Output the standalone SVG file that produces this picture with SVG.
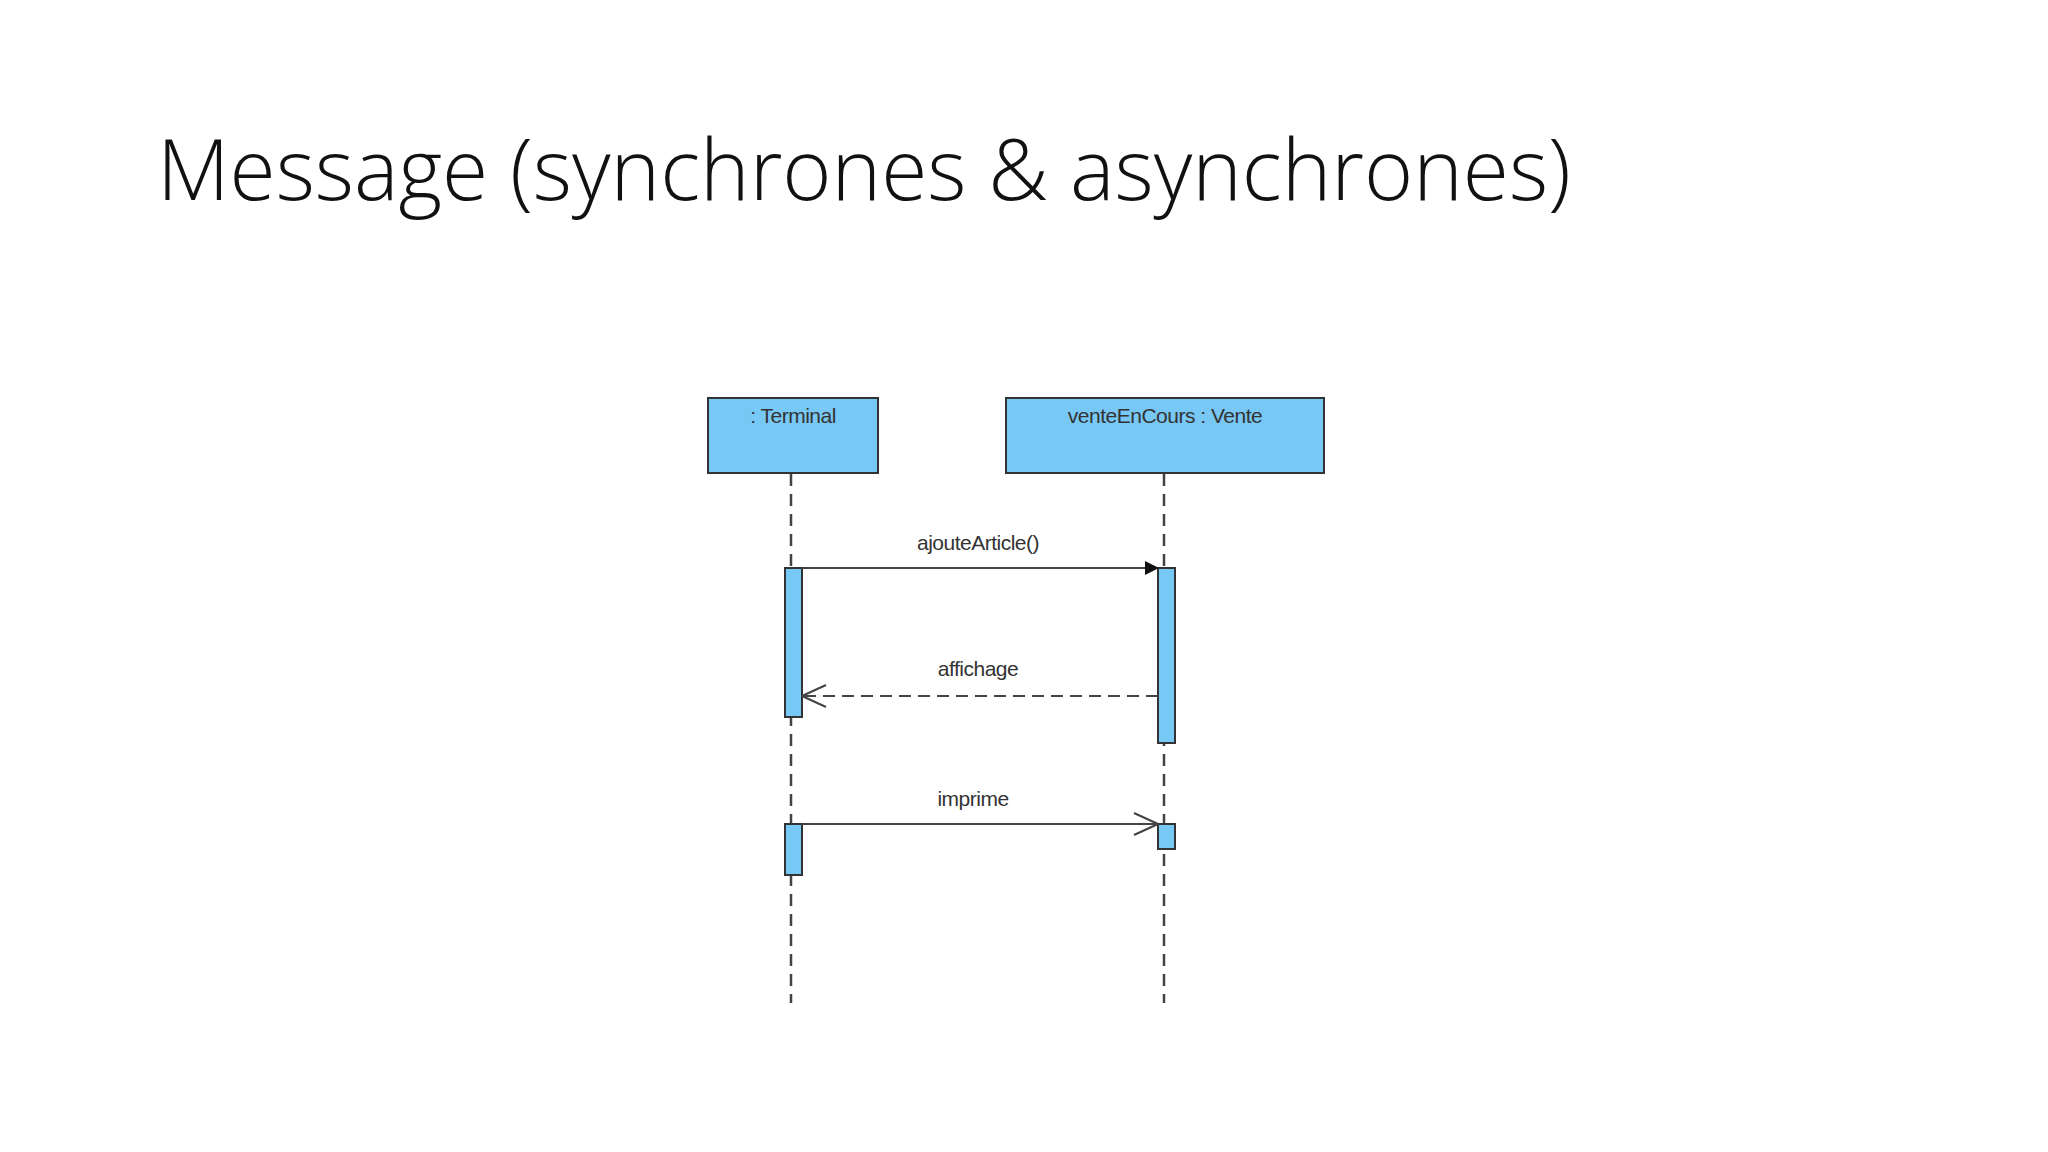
<svg xmlns="http://www.w3.org/2000/svg" width="2048" height="1152" viewBox="0 0 2048 1152">
<style>
.box{fill:#78c8f5;stroke:#333;stroke-width:2}
.act{fill:#78c8f5;stroke:#333;stroke-width:2}
.life{stroke:#444;stroke-width:2.5;stroke-dasharray:12 8;fill:none}
.msg{stroke:#444;stroke-width:2;fill:none}
.lbl{font-family:"Liberation Sans",Arial,sans-serif;font-size:21px;fill:#333;text-anchor:middle;letter-spacing:-0.5px}
</style>
<defs>
<marker id="filled" markerWidth="14" markerHeight="14" refX="13" refY="7" orient="auto" markerUnits="userSpaceOnUse" viewBox="0 0 14 14"><path d="M0,0 L14,7 L0,14 Z" fill="#111"/></marker>
<marker id="open" markerWidth="26" markerHeight="24" refX="25" refY="12" orient="auto" markerUnits="userSpaceOnUse"><path d="M1,1 L25,12 L1,23" fill="none" stroke="#444" stroke-width="2"/></marker>
</defs>
<rect width="2048" height="1152" fill="#fff"/>
<text x="157" y="200" font-family="'Open Sans','Noto Sans',sans-serif" font-weight="300" font-size="84" fill="#111">Message (synchrones &amp; asynchrones)</text>
<g id="lifelines">
<path class="life" d="M791,474 V1003"/>
<path class="life" d="M1164,474 V1003"/>
</g>
<g id="terminal">
<rect class="box" x="708" y="398" width="170" height="75"/>
<text class="lbl" x="793" y="423">: Terminal</text>
</g>
<g id="vente">
<rect class="box" x="1006" y="398" width="318" height="75"/>
<text class="lbl" x="1165" y="423">venteEnCours : Vente</text>
</g>
<g id="activations">
<rect class="act" x="785" y="568" width="17" height="149"/>
<rect class="act" x="1158" y="568" width="17" height="175"/>
<rect class="act" x="785" y="824" width="17" height="51"/>
<rect class="act" x="1158" y="824" width="17" height="25"/>
</g>
<g id="connectors">
<path class="msg" d="M802,568 H1158" marker-end="url(#filled)"/>
<path class="msg" d="M1158,696 H802" stroke-dasharray="12 7" marker-end="url(#open)"/>
<path class="msg" d="M802,824 H1158" marker-end="url(#open)"/>
<text class="lbl" x="978" y="550">ajouteArticle()</text>
<text class="lbl" x="978" y="676">affichage</text>
<text class="lbl" x="973" y="806">imprime</text>
</g>
</svg>
